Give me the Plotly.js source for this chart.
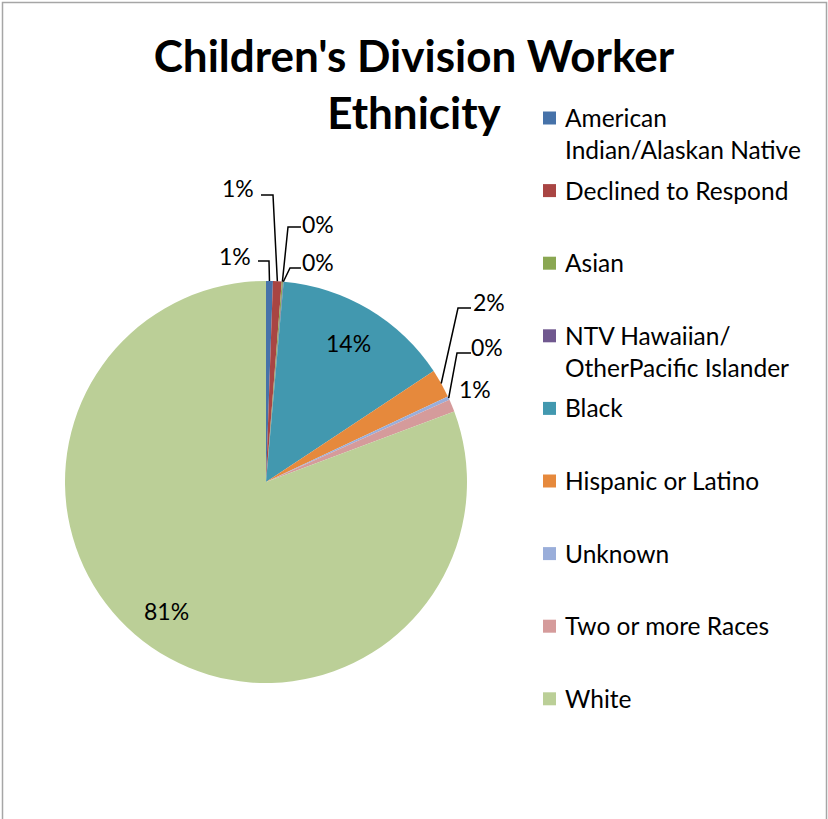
<!DOCTYPE html>
<html>
<head>
<meta charset="utf-8">
<script src="https://cdn.plot.ly/plotly-3.0.1.min.js"></script>
<style>html,body{margin:0;padding:0;background:#fff;}#chart{width:828px;height:819px;}</style>
</head>
<body>
<div id="chart"></div>
<script>
// ---- data ----
const categories = [
  "American<br>Indian/Alaskan Native",
  "Declined to Respond",
  "Asian",
  "NTV Hawaiian/<br>OtherPacific Islander",
  "Black",
  "Hispanic or Latino",
  "Unknown",
  "Two or more Races",
  "White"
];
const values = [0.55, 0.7, 0.1, 0.05, 14.3, 2.3, 0.3, 1.0, 80.7];
const colors = ["#4672A9", "#A94543", "#8AA752", "#70588F", "#4298AF",
                "#E6893C", "#9AAEDA", "#D59B9B", "#BBCF97"];
const titleText = "Children's Division Worker<br>Ethnicity";

// ---- layout helpers (pixels -> paper) ----
const W = 828, H = 819;
const px = x => x / W;
const py = y => 1 - y / H;
const CX = 266, CY = 482, R = 201;
const FS = 23;      // data label size
const LFS = 24.5;   // legend text size
const FONT = "Lato, 'Open Sans', sans-serif";

const total = values.reduce((a, b) => a + b, 0);
const mids = [];
let cum = 0;
values.forEach(v => { mids.push((cum + v / 2) / total); cum += v; });
const edge = (i, k) => {
  const t = 2 * Math.PI * mids[i];
  return [CX + k * R * Math.sin(t), CY - k * R * Math.cos(t)];
};
const pct = v => Math.round(v) + "%";

const annotations = [];
const shapes = [];

// label placement: [index, label center x, y, leader line points (label side) or null]
const labelPos = [
  [0, 235, 256, [[258, 261], [269, 261]]],
  [1, 238, 188, [[261, 195], [273, 195]]],
  [2, 318, 224, [[301, 227], [288, 227]]],
  [3, 318, 262, [[301, 268], [290, 268]]],
  [4, 348, 343, null],
  [5, 489, 302, [[471, 308], [458, 308]]],
  [6, 487, 347, [[471, 353], [457, 353]]],
  [7, 475, 389, null],
  [8, 166, 611, null]
];
labelPos.forEach(([i, x, y, pts]) => {
  annotations.push({xref: "paper", yref: "paper", x: px(x), y: py(y),
    xanchor: "center", yanchor: "middle", showarrow: false,
    text: pct(values[i]), font: {family: FONT, size: FS, color: "#000"}});
  if (pts) {
    const e = edge(i, 1.0);
    const all = pts.concat([e]);
    const d = all.map((p, j) => (j ? "L" : "M") + px(p[0]) + "," + py(p[1])).join(" ");
    shapes.push({type: "path", xref: "paper", yref: "paper", path: d,
      line: {color: "#000", width: 1.5}});
  }
});

// custom legend
const LX = 543, LS = 13, LTX = 563, LY0 = 118, PITCH = 72.6;
categories.forEach((c, i) => {
  const yc = LY0 + PITCH * i;
  shapes.push({type: "rect", xref: "paper", yref: "paper",
    x0: px(LX), x1: px(LX + LS), y0: py(yc - LS / 2), y1: py(yc + LS / 2),
    fillcolor: colors[i], line: {width: 0}});
  annotations.push({xref: "paper", yref: "paper", x: px(LTX), y: py(yc - LFS * 0.65 - 1),
    xanchor: "left", yanchor: "top", align: "left", showarrow: false,
    text: c, font: {family: FONT, size: LFS, color: "#000"}});
});

// outer border
shapes.push({type: "rect", xref: "paper", yref: "paper",
  x0: px(2.5), x1: px(826.5), y0: py(2.5), y1: py(860),
  line: {color: "#a6a6a6", width: 1.5}, fillcolor: "rgba(0,0,0,0)"});

const trace = {
  type: "pie",
  labels: categories,
  values: values,
  sort: false,
  direction: "clockwise",
  rotation: 0,
  textinfo: "none",
  hoverinfo: "label+percent",
  marker: {colors: colors, line: {width: 0}},
  domain: {x: [px(CX - R), px(CX + R)], y: [py(CY + R), py(CY - R)]},
  showlegend: false
};

const layout = {
  width: W, height: H,
  margin: {l: 0, r: 0, t: 0, b: 0},
  paper_bgcolor: "#fff",
  showlegend: false,
  title: {text: titleText, x: 0.5, xanchor: "center", xref: "paper",
    y: py(72), yanchor: "top", yref: "container",
    font: {family: FONT, size: 44, weight: "bold", color: "#000"}},
  annotations: annotations,
  shapes: shapes
};

Plotly.newPlot("chart", [trace], layout, {displayModeBar: false, staticPlot: true});
</script>
</body>
</html>
